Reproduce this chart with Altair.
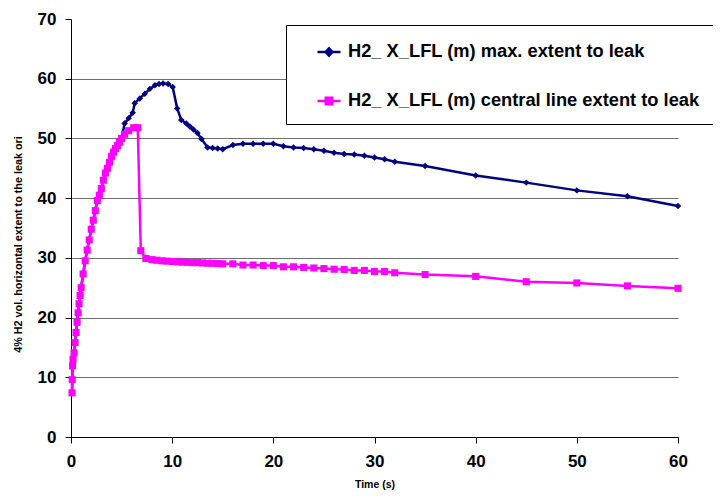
import altair as alt
import pandas as pd

MAX_NAME = "H2_ X_LFL (m) max. extent to leak"
CEN_NAME = "H2_ X_LFL (m) central line extent to leak"

# central line extent (magenta squares)
t_central = [0.1, 0.12, 0.15, 0.2, 0.3, 0.4, 0.5, 0.6, 0.7, 0.8, 0.9, 1.0,
             1.2, 1.4, 1.6, 1.8, 2.0, 2.2, 2.4, 2.6, 2.8, 3.0, 3.2, 3.4, 3.6,
             3.8, 4.0, 4.2, 4.4, 4.6, 4.8, 5.0, 5.3, 5.7, 6.2, 6.6, 6.9, 7.4,
             8.0, 8.5, 9.0, 9.5, 10.0, 10.5, 11.0, 11.5, 12.0, 12.5, 13.0,
             13.5, 14.0, 14.5, 15.0, 16, 17, 18, 19, 20, 21, 22, 23, 24, 25,
             26, 27, 28, 29, 30, 31, 32, 35, 40, 45, 50, 55, 60]
v_central = [7.4, 9.6, 11.9, 13.0, 14.1, 15.8, 17.5, 19.2, 20.8, 22.3, 23.7, 25.0,
             27.3, 29.5, 31.3, 33.0, 34.8, 36.3, 37.9, 39.6, 40.5, 41.6, 43.0, 44.2, 45.0,
             46.0, 47.0, 47.7, 48.3, 48.8, 49.4, 50.0, 50.7, 51.3, 51.8, 51.8, 31.2, 29.9,
             29.7, 29.6, 29.5, 29.45, 29.4, 29.35, 29.3, 29.25, 29.2, 29.2, 29.15,
             29.1, 29.1, 29.05, 29.0, 29.0, 28.8, 28.8, 28.7, 28.7, 28.5, 28.5, 28.4, 28.3, 28.2,
             28.1, 28.05, 27.9, 27.9, 27.7, 27.7, 27.5, 27.2, 26.9, 26.0, 25.8, 25.3, 24.9]

# max extent (navy diamonds)
t_max = [0.1, 0.12, 0.15, 0.2, 0.3, 0.4, 0.5, 0.6, 0.7, 0.8, 0.9, 1.0,
         1.2, 1.4, 1.6, 1.8, 2.0, 2.2, 2.4, 2.6, 2.8, 3.0, 3.2, 3.4, 3.6,
         3.8, 4.0, 4.2, 4.4, 4.6, 4.8, 5.0,
         5.3, 5.7, 6.1, 6.3, 6.8, 7.3, 7.8, 8.3, 8.7, 9.1, 9.6, 10.05, 10.5,
         10.9, 11.4, 11.75, 12.1, 12.5, 12.9, 13.5, 14.0, 14.5, 15.0, 16, 17,
         18, 19, 20, 21, 22, 23, 24, 25, 26, 27, 28, 29, 30, 31, 32, 35, 40,
         45, 50, 55, 60]
v_max = [7.4, 9.6, 11.9, 13.0, 14.1, 15.8, 17.5, 19.2, 20.8, 22.3, 23.7, 25.0,
         27.3, 29.5, 31.3, 33.0, 34.8, 36.3, 37.9, 39.6, 40.5, 41.6, 43.0, 44.2, 45.0,
         46.0, 47.0, 47.7, 48.3, 48.8, 49.4, 50.0,
         52.5, 53.4, 54.3, 55.9, 56.7, 57.5, 58.3, 58.9, 59.1, 59.2, 59.1, 58.6, 55.0,
         53.1, 52.5, 52.0, 51.5, 50.9, 49.9, 48.5, 48.4, 48.3, 48.2, 48.9, 49.1,
         49.1, 49.1, 49.1, 48.7, 48.5, 48.4, 48.2, 47.95, 47.6, 47.4, 47.3, 47.1, 46.8, 46.5, 46.1, 45.4, 43.8,
         42.6, 41.3, 40.3, 38.7]

x_ticks = [0, 10, 20, 30, 40, 50, 60]
y_ticks = [0, 10, 20, 30, 40, 50, 60, 70]

df = pd.concat([
    pd.DataFrame({"t": t_max, "v": v_max, "series": MAX_NAME}),
    pd.DataFrame({"t": t_central, "v": v_central, "series": CEN_NAME}),
], ignore_index=True)

FONT = "Liberation Sans"
NAVY = "#000080"
MAGENTA = "#FF00FF"
color_scale = alt.Scale(domain=[MAX_NAME, CEN_NAME], range=[NAVY, MAGENTA])

x_enc = alt.X("t:Q", scale=alt.Scale(domain=[0, 60], nice=False),
              axis=alt.Axis(values=x_ticks, title="Time (s)", grid=False,
                            labelFlush=False, labelOverlap=False, labelPadding=10,
                            titleFontSize=10.5, titleY=50, titleBaseline="alphabetic"))
y_enc = alt.Y("v:Q", scale=alt.Scale(domain=[0, 70], nice=False),
              axis=alt.Axis(values=y_ticks, title="4% H2 vol. horizontal extent  to the leak ori",
                            grid=True, gridColor="#6e6e6e", gridWidth=1,
                            gridOpacity={"condition": {"test": "datum.value >= 70", "value": 0}, "value": 1},
                            labelPadding=9, titleFontSize=10.8, titleAngle=-90,
                            titleX=-53, titleY=225, titleAlign="center", titleBaseline="middle"))

PATH_D = "M-1,0H1M0,-0.32L0.3,0L0,0.32L-0.3,0Z"
PATH_S = "M-1,0H1M-0.28,-0.28H0.28V0.28H-0.28Z"
is_max = f"datum.value === '{MAX_NAME}'"

legend = alt.Legend(
    title=None, orient="none", legendX=215, legendY=6, padding=14,
    strokeColor="black", fillColor="white", symbolOffset=16, labelOffset=6,
    rowPadding=27, symbolSize=529, labelFont=FONT, labelFontSize=18.3,
    labelFontWeight="bold", labelColor="black", labelLimit=600,
    symbolType=alt.ExprRef(expr=f"{is_max} ? '{PATH_D}' : '{PATH_S}'"),
    symbolFillColor=alt.ExprRef(expr=f"{is_max} ? '{NAVY}' : '{MAGENTA}'"),
    symbolStrokeColor=alt.ExprRef(expr=f"{is_max} ? '{NAVY}' : '{MAGENTA}'"),
    symbolStrokeWidth=2.5, symbolOpacity=1,
)

base = alt.Chart(df)

def series_layers(name, colour, shape, shape_size, with_legend):
    sub = base.transform_filter(alt.datum.series == name)
    line = sub.mark_line(strokeWidth=2.5).encode(
        x=x_enc, y=y_enc,
        color=alt.Color("series:N", scale=color_scale, legend=legend if with_legend else None),
    )
    pts = sub.mark_point(filled=True, shape=shape, size=shape_size, opacity=1, color=colour).encode(
        x=x_enc, y=y_enc,
    )
    return [line, pts]

layers = (series_layers(MAX_NAME, NAVY, "diamond", 42, True)
          + series_layers(CEN_NAME, MAGENTA, "square", 50, False))

chart = alt.layer(*layers).properties(
    width=607, height=418,
    autosize=alt.AutoSizeParams(type="none"),
    padding={"left": 63, "top": 11, "right": 35, "bottom": 53},
    background="white",
).configure_view(strokeWidth=0).configure_axis(
    domainColor="black", domainWidth=1, tickColor="black", tickSize=6, tickWidth=1,
    labelFont=FONT, labelFontSize=17, labelFontWeight="bold", labelColor="black",
    titleFont=FONT, titleFontWeight="bold", titleColor="black",
)

chart.save("out.html", embed_options={"renderer": "svg", "actions": False})
